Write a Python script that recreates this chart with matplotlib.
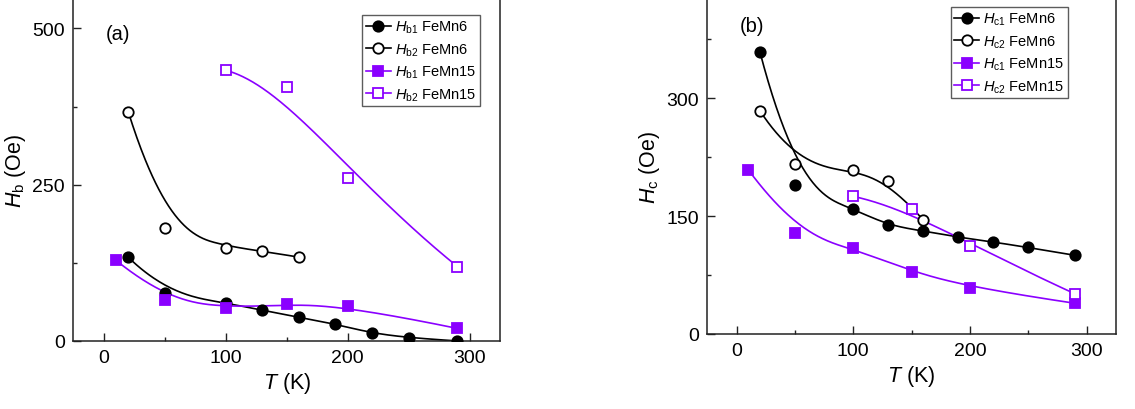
import numpy as np
import matplotlib
matplotlib.use("Agg")
import matplotlib.pyplot as plt
from matplotlib.ticker import MultipleLocator

plt.rcParams["font.family"] = ["Liberation Sans", "DejaVu Sans"]
plt.rcParams["mathtext.fontset"] = "custom"
plt.rcParams["mathtext.rm"] = "Liberation Sans"
plt.rcParams["mathtext.it"] = "Liberation Sans:italic"

PURPLE = "#8a00ff"

# panel (a): exchange bias field vs temperature
T_hb1_6 = [20, 50, 100, 130, 160, 190, 220, 250, 290]
hb1_6 = [134, 77, 61, 49, 38, 27, 12, 5, 0]
T_hb2_6 = [20, 50, 100, 130, 160]
hb2_6 = [367, 180, 149, 144, 134]
T_hb1_15 = [10, 50, 100, 150, 200, 290]
hb1_15 = [129, 66, 52, 59, 56, 20]
T_hb2_15 = [100, 150, 200, 290]
hb2_15 = [433, 407, 261, 119]

# panel (b): coercivity vs temperature
T_hc1_6 = [20, 50, 100, 130, 160, 190, 220, 250, 290]
hc1_6 = [359, 189, 159, 138, 131, 123, 117, 110, 100]
T_hc2_6 = [20, 50, 100, 130, 160]
hc2_6 = [284, 216, 209, 194, 145]
T_hc1_15 = [10, 50, 100, 150, 200, 290]
hc1_15 = [209, 129, 109, 79, 59, 39]
T_hc2_15 = [100, 150, 200, 290]
hc2_15 = [175, 159, 112, 51]


def bspline(x, y, n=300, k=3):
    # clamped B-spline with the data points as control points (Origin-style)
    P = np.column_stack([x, y]).astype(float)
    m = len(P)
    k = min(k, m - 1)
    knots = np.concatenate([np.zeros(k), np.linspace(0, 1, m - k + 1), np.ones(k)])
    t = np.linspace(0, 1 - 1e-9, n)
    N = np.zeros((n, len(knots) - 1))
    for i in range(len(knots) - 1):
        N[:, i] = (t >= knots[i]) & (t < knots[i + 1])
    for d in range(1, k + 1):
        Nn = np.zeros((n, len(knots) - 1 - d))
        for i in range(len(knots) - 1 - d):
            a = knots[i + d] - knots[i]
            b = knots[i + d + 1] - knots[i + 1]
            left = (t - knots[i]) / a * N[:, i] if a > 0 else 0
            right = (knots[i + d + 1] - t) / b * N[:, i + 1] if b > 0 else 0
            Nn[:, i] = left + right
        N = Nn
    C = N @ P
    return C[:, 0], C[:, 1]


def series(ax, x, y, color, marker, filled, label):
    sx, sy = bspline(x, y)
    ms = 7.5 if marker == "o" else 7
    ax.plot(sx, sy, color=color, lw=1.2, zorder=2)
    ax.plot(x, y, ls="none", marker=marker, ms=ms,
            mfc=color if filled else "white", mec=color, mew=1.3, zorder=3)
    # legend proxy
    ax.plot([], [], color=color, lw=1.2, marker=marker, ms=ms,
            mfc=color if filled else "white", mec=color, mew=1.3, label=label)


def style(ax, ymax, major, minor):
    ax.set_xlim(-25, 325)
    ax.set_ylim(0, ymax)
    ax.xaxis.set_major_locator(MultipleLocator(100))
    ax.xaxis.set_minor_locator(MultipleLocator(50))
    ax.yaxis.set_major_locator(MultipleLocator(major))
    ax.yaxis.set_minor_locator(MultipleLocator(minor))
    ax.tick_params(which="both", direction="in", labelsize=14, width=1, color="#222222")
    ax.tick_params(which="major", length=6, pad=6)
    ax.tick_params(which="minor", length=3)
    ax.spines["top"].set_visible(False)
    for s in ["left", "right", "bottom"]:
        ax.spines[s].set_linewidth(1.1)
        ax.spines[s].set_color("#222222")
    ax.set_xlabel(r"$T$ (K)", fontsize=15.5, labelpad=3)


def legend(ax, anchor):
    leg = ax.legend(loc="upper right", bbox_to_anchor=anchor, borderaxespad=0,
                    fontsize=10.5, frameon=True, fancybox=False, handlelength=1.7,
                    handletextpad=0.3, labelspacing=0.42, borderpad=0.25)
    leg.get_frame().set_edgecolor("#333333")
    leg.get_frame().set_linewidth(1.0)


fig = plt.figure(figsize=(11.35, 4.10), dpi=100)
ax1 = fig.add_axes([0.0646, 0.166, 0.376, 0.834])
ax2 = fig.add_axes([0.6232, 0.183, 0.360, 0.817])

series(ax1, T_hb1_6, hb1_6, "black", "o", True, r"$H_{\mathrm{b1}}$ FeMn6")
series(ax1, T_hb2_6, hb2_6, "black", "o", False, r"$H_{\mathrm{b2}}$ FeMn6")
series(ax1, T_hb1_15, hb1_15, PURPLE, "s", True, r"$H_{\mathrm{b1}}$ FeMn15")
series(ax1, T_hb2_15, hb2_15, PURPLE, "s", False, r"$H_{\mathrm{b2}}$ FeMn15")
style(ax1, 547, 250, 125)
ax1.set_ylabel(r"$H_{\mathrm{b}}$ (Oe)", fontsize=15.5, labelpad=3)
ax1.text(0.105, 0.90, "(a)", transform=ax1.transAxes, fontsize=14.5, ha="center", va="center")
legend(ax1, (0.953, 0.953))

series(ax2, T_hc1_6, hc1_6, "black", "o", True, r"$H_{\mathrm{c1}}$ FeMn6")
series(ax2, T_hc2_6, hc2_6, "black", "o", False, r"$H_{\mathrm{c2}}$ FeMn6")
series(ax2, T_hc1_15, hc1_15, PURPLE, "s", True, r"$H_{\mathrm{c1}}$ FeMn15")
series(ax2, T_hc2_15, hc2_15, PURPLE, "s", False, r"$H_{\mathrm{c2}}$ FeMn15")
style(ax2, 426, 150, 75)
ax2.set_ylabel(r"$H_{\mathrm{c}}$ (Oe)", fontsize=15.5, labelpad=3)
ax2.text(0.109, 0.921, "(b)", transform=ax2.transAxes, fontsize=14.5, ha="center", va="center")
legend(ax2, (0.8826, 0.976))

fig.savefig("out.png", dpi=100)
